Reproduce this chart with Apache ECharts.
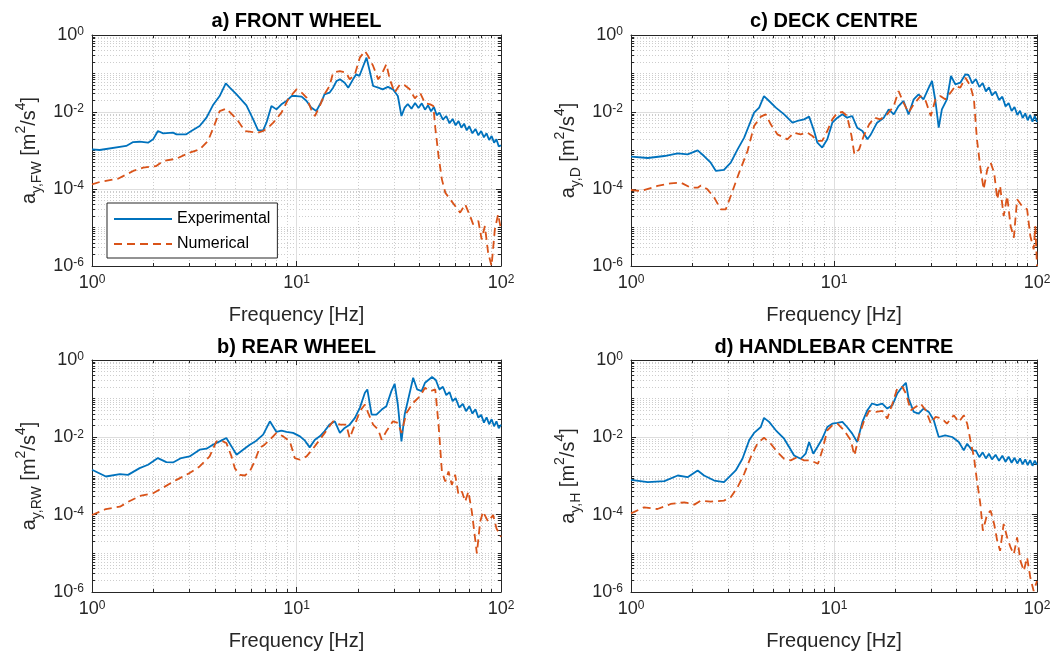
<!DOCTYPE html>
<html><head><meta charset="utf-8">
<script src="https://cdn.jsdelivr.net/npm/echarts@6/dist/echarts.min.js"></script>
<style>html,body{margin:0;padding:0;background:#fff}#c{width:1055px;height:653px}</style>
</head><body><div id="c"></div>
<script>
// ---------- DATA ----------
const panelTitles = ['a) FRONT WHEEL', 'b) REAR WHEEL', 'c) DECK CENTRE', 'd) HANDLEBAR CENTRE'];
const panelSubs = ['y,FW', 'y,RW', 'y,D', 'y,H'];
const legendNames = ['Experimental', 'Numerical'];
const xMajorTicks = [1, 10, 100];
const yMajorTicks = [1e-6, 1e-4, 1e-2, 1];

// a) front wheel
const aExpF = [1,1.09,1.47,1.59,1.71,1.88,1.99,2.10,2.23,2.49,2.59,2.89,3.06,3.36,3.63,3.90,4.21,4.51,4.72,5.09,5.69,6.14,6.49,6.87,7.13,7.54,7.98,8.44,8.93,9.46,10.0,10.6,11.2,11.8,12.5,13.3,13.7,14.5,15.1,15.7,16.3,17.2,17.9,18.9,19.6,20.3,21.2,22.0,22.8,23.7,25.1,26.4,28.0,29.6,31.3,32.6,33.8,35,36.5,38,39.5,41,42.5,44,45.5,47,48.5,50,52,54,56,58,60,62,64,66,68,70,72.5,75,77.5,80,82.5,85,87.5,90,92.5,95,97.5,100];
const aExpV = [0.00107,0.00103,0.00131,0.00166,0.00169,0.0016,0.00195,0.00321,0.00279,0.00291,0.00263,0.00263,0.00321,0.00433,0.00713,0.0149,0.026,0.0556,0.0428,0.0288,0.0149,0.00645,0.00334,0.00334,0.00528,0.0143,0.0117,0.0158,0.0193,0.026,0.026,0.0251,0.0193,0.013,0.0106,0.0193,0.0288,0.0318,0.0428,0.0638,0.0705,0.0578,0.0428,0.0705,0.0951,0.0861,0.157,0.258,0.116,0.0473,0.0428,0.0388,0.045,0.0388,0.026,0.00787,0.013,0.0161,0.0122,0.0171,0.0127,0.0168,0.0115,0.0149,0.0104,0.0135,0.00819,0.00961,0.00632,0.00787,0.00508,0.00658,0.00451,0.00584,0.00392,0.00498,0.00334,0.00425,0.00279,0.00362,0.00248,0.00321,0.0022,0.00279,0.00187,0.00238,0.0016,0.00195,0.00128,0.00136];
const aNumF = [1,1.09,1.34,1.59,1.78,2.06,2.23,2.59,3.0,3.36,3.69,3.98,4.21,4.54,4.89,5.18,5.59,6.03,6.49,6.87,7.27,7.7,8.44,9.1,9.62,10.0,10.6,11.2,11.8,12.3,13.0,13.7,14.5,15.1,16.3,17.5,18.2,19.3,20.4,21.6,22.4,23.7,25.1,26.1,27.5,28.6,30.2,32.1,33.8,35.8,37.9,40.2,42.5,45.1,46.7,47.7,49.5,51.4,53.4,56.4,59.7,63.1,66.8,70.6,73.1,77.5,80.4,83.4,86.5,89.9,93.3,96.8,100];
const aNumV = [0.000132,0.000152,0.000185,0.000294,0.000358,0.000396,0.000534,0.000614,0.000879,0.00107,0.00177,0.00478,0.0106,0.0122,0.00819,0.00584,0.00321,0.00303,0.00291,0.00321,0.00392,0.00528,0.00961,0.0213,0.0305,0.0388,0.0318,0.0236,0.0117,0.00787,0.0143,0.0288,0.0473,0.105,0.116,0.105,0.0705,0.0951,0.258,0.384,0.285,0.157,0.0705,0.0951,0.173,0.0705,0.0318,0.0523,0.0493,0.0388,0.0226,0.0318,0.0168,0.0158,0.0143,0.00392,0.000719,0.000178,0.0000803,0.0000539,0.0000362,0.0000243,0.00004,0.0000199,0.0000121,0.0000148,0.00000493,0.0000109,0.00000222,0.000001,0.00000896,0.000022,0.00000896];

// b) rear wheel
const bExpF = [1,1.17,1.37,1.50,1.71,1.88,2.10,2.31,2.49,2.73,3.0,3.36,3.63,3.90,4.21,4.54,4.81,5.09,5.48,5.91,6.36,6.87,7.41,7.54,7.98,8.44,8.93,9.62,10.4,11.0,11.6,12.3,13.0,13.7,14.5,15.4,16.3,17.2,18.2,19.3,20.4,21.6,22.2,23.3,24.6,26.1,27.5,29.1,30.2,31.3,32.6,33.8,35.0,37.2,38.9,40.9,42.5,46.0,48,50,52,54,56,58,60,62.5,65,67.5,70,72.5,75,77.5,80,82.5,85,87.5,90,92.5,95,97.5,100];
const bExpV = [0.00145,0.000971,0.00112,0.00107,0.0016,0.00195,0.00291,0.00229,0.00224,0.00291,0.00321,0.00478,0.00508,0.00645,0.00787,0.00961,0.00584,0.00355,0.00478,0.00645,0.00819,0.0117,0.026,0.0271,0.0138,0.0149,0.0138,0.013,0.0106,0.00819,0.0055,0.00869,0.0106,0.0143,0.0213,0.026,0.013,0.0175,0.0213,0.0318,0.0578,0.142,0.173,0.0388,0.0388,0.0523,0.0638,0.157,0.243,0.0705,0.00787,0.0388,0.0861,0.348,0.173,0.157,0.258,0.362,0.303,0.173,0.203,0.123,0.148,0.0861,0.103,0.059,0.0734,0.0473,0.0638,0.0412,0.0533,0.0324,0.038,0.024,0.033,0.0218,0.0294,0.0193,0.026,0.0171,0.0213];
const bNumF = [1,1.17,1.37,1.53,1.74,1.99,2.23,2.59,3.0,3.36,3.76,4.06,4.29,4.54,4.81,4.99,5.28,5.59,5.91,6.24,6.60,6.98,7.41,7.98,8.61,9.28,9.81,10.4,11.2,12.1,13.0,14.0,15.1,16.3,17.5,18.2,19.3,20.4,21.6,22.4,23.7,25.1,26.1,27.5,29.6,31.3,32.6,34.5,37.2,40.2,42.5,45.1,47.7,49.5,51.4,53.4,55.4,57.5,59.7,62.0,64.4,66.8,69.3,72.0,74.7,76.2,79.1,81.7,86.5,91.5,95.0,100];
const bNumV = [0.0000981,0.00014,0.000161,0.000226,0.000312,0.000358,0.000503,0.000795,0.00119,0.00177,0.00321,0.00787,0.00819,0.00713,0.00321,0.0016,0.00107,0.00103,0.00131,0.00238,0.00528,0.00645,0.00869,0.013,0.0106,0.00787,0.00291,0.00263,0.00321,0.00528,0.00869,0.0149,0.026,0.0213,0.0213,0.00961,0.0213,0.0473,0.0705,0.0428,0.0213,0.0158,0.00869,0.0143,0.026,0.0236,0.013,0.0428,0.0779,0.116,0.191,0.157,0.173,0.0213,0.00131,0.000719,0.00131,0.00059,0.00107,0.000324,0.000396,0.000218,0.000396,0.00012,0.0000243,0.0000099,0.0000658,0.00012,0.0000658,0.0000981,0.0000442,0.0000268];

// c) deck centre
const cExpF = [1,1.21,1.46,1.70,1.90,2.13,2.29,2.47,2.62,2.87,3.10,3.35,3.61,3.89,4.04,4.28,4.52,4.79,5.17,5.68,6.24,6.60,7.12,7.54,7.98,8.28,8.75,9.27,9.81,10.4,11.0,11.6,12.3,13.0,13.8,14.6,15.1,16.3,17.6,18.6,19.7,20.8,22.0,23.3,24.7,26.1,27.6,29.3,30.4,31.6,32.8,34.0,36.0,37.7,39.6,41.9,44.4,46,48,50,52,54,56,58,60,62.5,65,67.5,70,72.5,75,77.5,80,82.5,85,87.5,90,92.5,95,97.5,100];
const cExpV = [0.000692,0.000638,0.000719,0.000844,0.000795,0.00101,0.000719,0.000483,0.000294,0.000312,0.000483,0.00107,0.00216,0.00584,0.00961,0.013,0.026,0.0193,0.013,0.00869,0.00528,0.00584,0.00645,0.00757,0.00321,0.0016,0.00119,0.00195,0.00528,0.00713,0.00869,0.00713,0.00787,0.00392,0.00321,0.00195,0.00248,0.00528,0.00713,0.0117,0.00869,0.0143,0.0193,0.00869,0.0213,0.0288,0.0213,0.0428,0.0638,0.0193,0.00392,0.0117,0.0213,0.0861,0.0523,0.0578,0.0951,0.0914,0.0556,0.0719,0.0446,0.0566,0.0344,0.0437,0.0271,0.0337,0.0205,0.025,0.014,0.0171,0.0106,0.0135,0.00836,0.0108,0.00698,0.00923,0.00608,0.00836,0.00561,0.00787,0.0055];
const cNumF = [1,1.12,1.35,1.57,1.76,1.97,2.13,2.21,2.38,2.57,2.77,2.93,3.10,3.41,3.75,4.04,4.36,4.61,4.88,5.26,5.89,6.35,6.85,7.39,7.83,8.28,8.75,9.27,9.81,10.4,11.0,11.6,12.2,12.6,13.3,14.0,14.9,15.8,16.9,18.3,19.7,20.8,22.0,23.3,24.7,26.7,28.3,30.0,31.6,33.4,35.3,37.5,39.6,41.9,44.4,47.0,48.9,50.6,52.6,54.6,56.9,59.1,61.5,63.7,65.8,68.5,71.3,74.1,76.9,79.8,84.3,89.4,92.7,96.3,98.1,100];
const cNumV = [0.0000942,0.0000887,0.00012,0.00014,0.000146,0.000108,0.000108,0.000124,0.0000981,0.0000596,0.0000296,0.0000296,0.0000658,0.000266,0.000971,0.00433,0.00757,0.00869,0.00478,0.00263,0.00195,0.00291,0.00263,0.00291,0.00238,0.00177,0.00177,0.00321,0.00645,0.00961,0.01,0.00787,0.00238,0.000795,0.00107,0.00238,0.00478,0.00713,0.00645,0.00869,0.0143,0.0351,0.0175,0.00961,0.0158,0.026,0.0193,0.00787,0.0213,0.026,0.0213,0.0318,0.0473,0.0428,0.0779,0.0473,0.0213,0.00195,0.000358,0.0000981,0.000324,0.000483,0.000266,0.0000539,0.00012,0.0000199,0.0000658,0.0000109,0.00000544,0.0000539,0.0000362,0.0000296,0.00000601,0.00000271,0.0000109,0.000001];

// d) handlebar centre
const dExpF = [1,1.21,1.46,1.70,1.90,2.13,2.29,2.57,2.87,3.04,3.28,3.54,3.82,4.04,4.36,4.52,4.79,5.17,5.68,6.01,6.36,6.85,7.25,7.54,7.91,8.28,8.75,9.27,9.81,10.4,11.0,11.6,12.3,13.0,13.8,14.6,15.4,16.3,17.3,18.3,19.4,20.5,21.7,22.6,23.3,24.7,26.1,27.6,29.3,31.0,32.8,35.3,38.2,41.2,43.6,45.3,47.9,50,52,54,56,58,60,62.5,65,67.5,70,72.5,75,77.5,80,82.5,85,87.5,90,92.5,95,97.5,100];
const dExpV = [0.000795,0.000692,0.000734,0.00103,0.000933,0.00139,0.00103,0.000764,0.000692,0.000933,0.00139,0.00279,0.00836,0.013,0.0185,0.0318,0.0251,0.0152,0.00923,0.00561,0.0034,0.00279,0.00377,0.00757,0.00377,0.00561,0.00923,0.0185,0.0226,0.0236,0.025,0.0185,0.0125,0.00757,0.025,0.0503,0.0749,0.0678,0.0749,0.0555,0.0678,0.136,0.203,0.258,0.101,0.0455,0.0412,0.0555,0.0455,0.0277,0.0102,0.0113,0.0102,0.00757,0.00459,0.00684,0.00459,0.00451,0.00308,0.00408,0.00285,0.00377,0.00268,0.00355,0.00248,0.00334,0.00233,0.00315,0.0022,0.00296,0.00211,0.00285,0.00199,0.00268,0.00191,0.00258,0.00184,0.00248,0.00195];
const dNumF = [1,1.16,1.35,1.57,1.83,2.05,2.21,2.47,2.87,3.10,3.35,3.61,3.89,4.19,4.52,4.88,5.26,5.68,6.12,6.60,7.12,7.67,8.34,8.75,9.27,9.81,10.4,11.2,12.1,12.6,13.3,14.0,14.9,16.1,17.3,18.3,19.4,20.5,21.7,22.6,23.9,25.3,26.7,28.3,30.0,31.6,34.0,36.0,38.9,41.2,43.6,45.3,47.0,48.9,50.6,52.6,54.1,56.9,59.1,61.5,63.7,65.8,68.5,71.3,74.1,76.9,79.8,82.9,86.1,89.4,92.7,96.3,100];
const dNumV = [0.000108,0.000155,0.00014,0.000189,0.000209,0.000182,0.000231,0.000218,0.000231,0.000282,0.000513,0.00114,0.00308,0.00684,0.0098,0.00684,0.00416,0.00279,0.00253,0.00308,0.00253,0.00253,0.00207,0.00459,0.0152,0.0205,0.0226,0.0152,0.00836,0.0034,0.0113,0.025,0.0483,0.0455,0.0483,0.0305,0.0749,0.184,0.203,0.136,0.0503,0.0614,0.0749,0.0503,0.0226,0.0337,0.0305,0.0226,0.0373,0.025,0.0373,0.0226,0.00836,0.00308,0.000764,0.000189,0.0000384,0.000104,0.000127,0.0000573,0.0000211,0.0000116,0.0000573,0.0000258,0.0000142,0.0000095,0.0000258,0.00000638,0.00000351,0.0000078,0.00000236,0.00000106,0.00000193];

// ---------- LAYOUT / STYLE ----------
const FONT = '"Liberation Sans", Arial, Helvetica, sans-serif';
const AX = '#262626';
const BLUE = '#0072BD';
const ORANGE = '#D95319';
const grids = [
  {left: 92,  top: 35,  width: 409, height: 231},
  {left: 92,  top: 360, width: 409, height: 232},
  {left: 631, top: 35,  width: 406, height: 231},
  {left: 631, top: 360, width: 406, height: 232}
];
const titleTops = [11, 337, 11, 337];
const panelData = [
  [aExpF, aExpV, aNumF, aNumV],
  [bExpF, bExpV, bNumF, bNumV],
  [cExpF, cExpV, cNumF, cNumV],
  [dExpF, dExpV, dNumF, dNumV]
];

const minorX = [];
[1, 10].forEach(d => { for (let m = 2; m <= 9; m++) minorX.push(m * d); });
const minorY = [];
for (let k = -6; k < 0; k++) {
  for (let m = 1; m <= 9; m++) {
    if (m === 1 && k % 2 === 0) continue;
    minorY.push(m * Math.pow(10, k));
  }
}

function supLabel(v) {
  const e = Math.round(Math.log10(v));
  return '10{sup|' + e + '}';
}
const labelRich = {sup: {fontSize: 12, verticalAlign: 'top', lineHeight: 12, fontFamily: FONT, color: AX}};

function makeAxes(dim, g) {
  const isX = dim === 'x';
  const base = {
    type: 'log', logBase: 10, gridIndex: g,
    min: isX ? 1 : 1e-6, max: isX ? 100 : 1,
    axisLine: {show: true, onZero: false, lineStyle: {color: AX, width: 1}},
    axisLabel: {show: false},
    splitLine: {show: false}
  };
  const major = isX ? xMajorTicks : yMajorTicks;
  const minor = isX ? minorX : minorY;
  const pos1 = isX ? 'bottom' : 'left';
  const pos2 = isX ? 'top' : 'right';
  const majTick = {show: true, inside: true, length: 5, customValues: major, lineStyle: {color: AX, width: 1}};
  const minTick = {show: true, inside: true, length: 3, customValues: minor, lineStyle: {color: AX, width: 1}};
  const main = Object.assign({}, base, {
    position: pos1,
    axisTick: majTick,
    axisLabel: {show: true, customValues: major, formatter: supLabel, margin: 8,
      color: AX, fontFamily: FONT, fontSize: 18, rich: labelRich},
    splitLine: {show: true, lineStyle: {color: '#dedede', width: 1}}
  });
  if (isX) {
    Object.assign(main, {name: 'Frequency [Hz]', nameLocation: 'middle', nameGap: 39,
      nameTextStyle: {fontFamily: FONT, fontSize: 20, color: AX}});
  } else {
    Object.assign(main, {
      name: 'a{sub|' + panelSubs[g] + '} [m{sup|2}/s{sup|4}]',
      nameLocation: 'middle', nameGap: 48, nameRotate: 90,
      nameTextStyle: {fontFamily: FONT, fontSize: 20, color: AX, lineHeight: 30,
        rich: {
          sub: {fontSize: 14, verticalAlign: 'bottom', lineHeight: 14, fontFamily: FONT, color: AX},
          sup: {fontSize: 14, verticalAlign: 'top', lineHeight: 14, fontFamily: FONT, color: AX}
        }}
    });
  }
  const mainMinor = Object.assign({}, base, {
    position: pos1, axisLine: {show: false, onZero: false}, axisTick: minTick,
    splitLine: {show: true, lineStyle: {color: '#cdcdcd', width: 1, type: [1, 2]}}
  });
  const opp = Object.assign({}, base, {position: pos2, axisTick: majTick});
  const oppMinor = Object.assign({}, base, {position: pos2, axisLine: {show: false, onZero: false}, axisTick: minTick});
  return [main, mainMinor, opp, oppMinor];
}

const xAxis = [], yAxis = [], series = [], title = [];
grids.forEach((gr, g) => {
  xAxis.push(...makeAxes('x', g));
  yAxis.push(...makeAxes('y', g));
  title.push({
    text: panelTitles[g], left: gr.left + gr.width / 2, top: titleTops[g], textAlign: 'center', padding: 0,
    textStyle: {fontFamily: FONT, fontSize: 20, fontWeight: 'bold', color: '#000'}
  });
  const [ef, ev, nf, nv] = panelData[g];
  series.push({
    type: 'line', name: legendNames[0], xAxisIndex: 4 * g, yAxisIndex: 4 * g,
    data: ef.map((f, i) => [f, ev[i]]), symbol: 'none', showSymbol: false, z: 3,
    lineStyle: {color: BLUE, width: 1.8}, itemStyle: {color: BLUE}
  });
  series.push({
    type: 'line', name: legendNames[1], xAxisIndex: 4 * g, yAxisIndex: 4 * g,
    data: nf.map((f, i) => [f, nv[i]]), symbol: 'none', showSymbol: false, z: 4,
    lineStyle: {color: ORANGE, width: 1.8, type: [8, 5]}, itemStyle: {color: ORANGE}
  });
});

const option = {
  animation: false,
  backgroundColor: '#ffffff',
  title: title,
  grid: grids.map(gr => Object.assign({outerBoundsMode: 'none', containLabel: false}, gr)),
  xAxis: xAxis,
  yAxis: yAxis,
  legend: {
    data: legendNames, orient: 'vertical', left: 107, top: 203,
    itemWidth: 58, itemHeight: 14, itemGap: 9, padding: [8, 7, 6, 6],
    borderColor: AX, borderWidth: 1, borderRadius: 0, backgroundColor: '#ffffff',
    selectedMode: false,
    itemStyle: {color: 'rgba(0,0,0,0)', borderWidth: 0, opacity: 0},
    textStyle: {fontFamily: FONT, fontSize: 16, color: '#000'}
  },
  series: series
};
const chart = echarts.init(document.getElementById('c'), null, {renderer: 'canvas'});
chart.setOption(option);
</script>
</body></html>
